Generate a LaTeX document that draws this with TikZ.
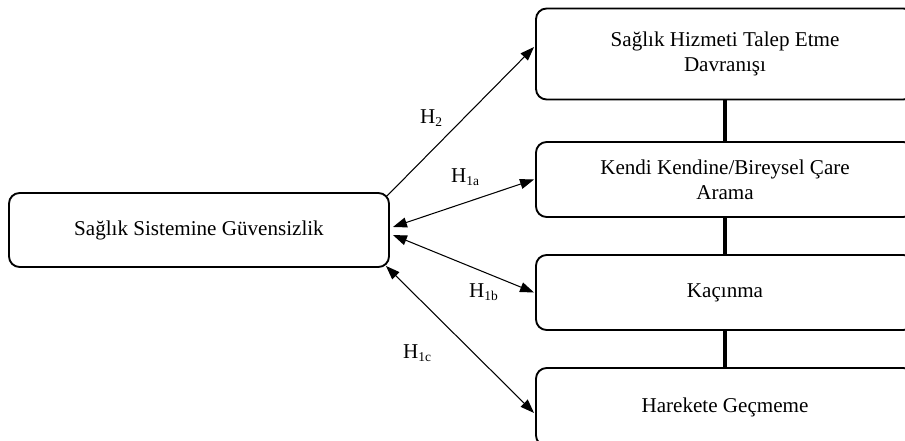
\documentclass[tikz,border=0pt]{standalone}
\usepackage{fontspec}
\setmainfont{Liberation Serif}
\usetikzlibrary{arrows.meta, calc}

\newcommand{\hsub}[1]{\raisebox{-0.3ex}{\fontsize{11.5}{12}\selectfont #1}}

\begin{document}
\begin{tikzpicture}[
  box/.style={draw, line width=1.6pt, rounded corners=9pt, fill=white, align=center,
    font=\fontsize{18}{21.3}\selectfont, inner sep=0pt},
  link/.style={line width=3.4pt},
  hyp/.style={line width=0.9pt, -{Triangle[length=0.42cm, width=0.3cm]}},
  hyptwo/.style={hyp, {Triangle[length=0.42cm, width=0.3cm]}-{Triangle[length=0.42cm, width=0.3cm]}},
  hlabel/.style={anchor=base west, font=\fontsize{18}{21}\selectfont, inner sep=0pt}
]
  \useasboundingbox (0,0) rectangle (27.15,-13.23);

  % Left factor
  \node[box, minimum width=11.4cm, minimum height=2.22cm] (distrust) at (5.97,-6.9) {Sağlık Sistemine Güvensizlik};

  % Behaviour boxes (run off the right edge)
  \node[box, minimum width=11.34cm, minimum height=2.73cm] (seeking) at (21.75,-1.62) {Sağlık Hizmeti Talep Etme\\Davranışı};
  \node[box, minimum width=11.34cm, minimum height=2.25cm] (selfcare) at (21.75,-5.385) {Kendi Kendine/Bireysel Çare\\Arama};
  \node[box, minimum width=11.34cm, minimum height=2.25cm] (avoid) at (21.75,-8.775) {Kaçınma};
  \node[box, minimum width=11.34cm, minimum height=2.34cm] (inaction) at (21.75,-12.21) {Harekete Geçmeme};

  % Vertical links
  \draw[link] (seeking.south) -- (selfcare.north);
  \draw[link] (selfcare.south) -- (avoid.north);
  \draw[link] (avoid.south) -- (inaction.north);

  % Hypotheses
  \draw[hyp] ($(distrust.north east)+(-0.09,-0.12)$) -- ($(seeking.west)+(-0.03,0.21)$);
  \draw[hyptwo] ($(distrust.east)+(0.09,0.09)$) -- ($(selfcare.west)+(-0.03,0)$);
  \draw[hyptwo] ($(distrust.east)+(0.09,-0.15)$) -- ($(avoid.west)+(-0.03,0)$);
  \draw[hyptwo] ($(distrust.south east)+(-0.12,0.06)$) -- ($(inaction.west)+(-0.03,-0.18)$);

  \node[hlabel] (htwo) at (12.6,-3.72) {H\hsub{2}};
  \node[hlabel] (honea) at (13.53,-5.49) {H\hsub{1a}};
  \node[hlabel] (honeb) at (14.07,-8.94) {H\hsub{1b}};
  \node[hlabel] (honec) at (12.09,-10.77) {H\hsub{1c}};
\end{tikzpicture}
\end{document}
